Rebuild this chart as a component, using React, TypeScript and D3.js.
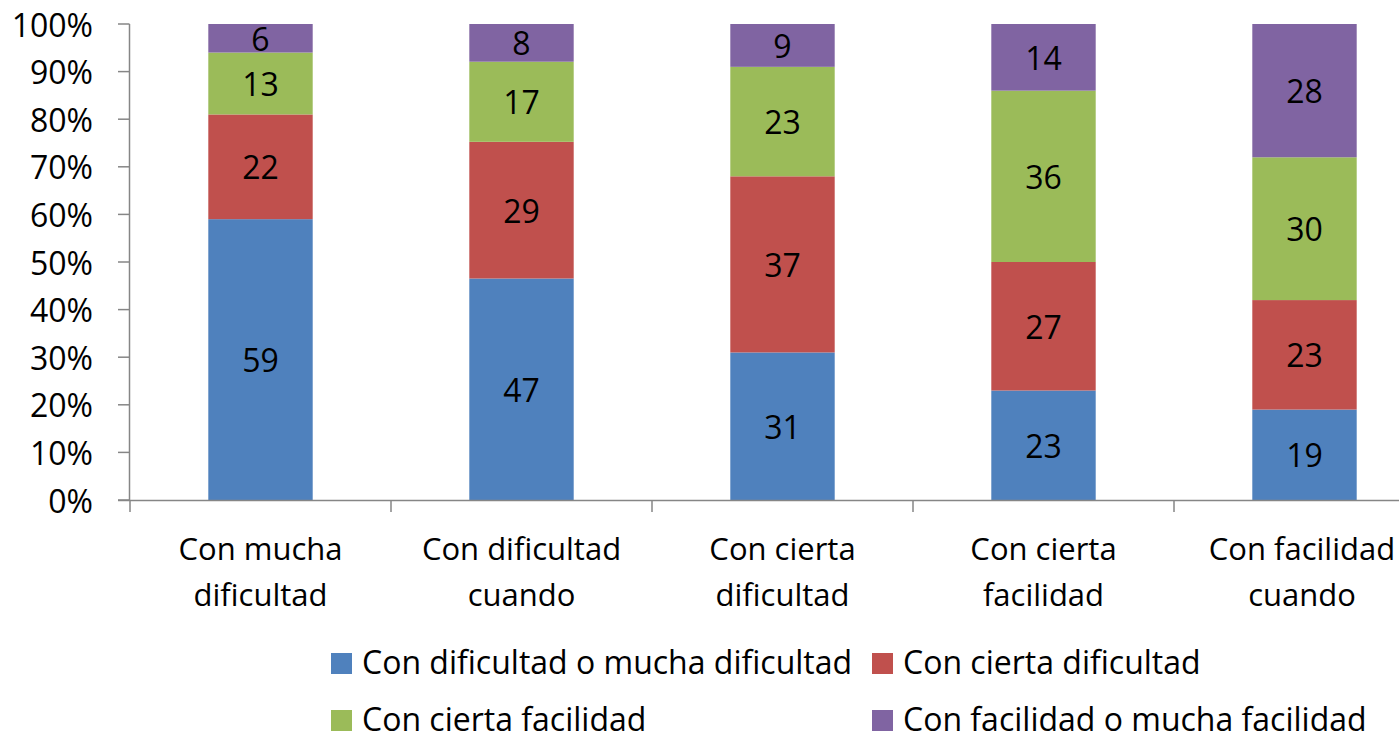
import React from "react";
import * as d3 from "d3";

const categories = [
  ["Con mucha", "dificultad"],
  ["Con dificultad", "cuando"],
  ["Con cierta", "dificultad"],
  ["Con cierta", "facilidad"],
  ["Con facilidad", "cuando"],
];
const seriesNames = [
  "Con dificultad o mucha dificultad",
  "Con cierta dificultad",
  "Con cierta facilidad",
  "Con facilidad o mucha facilidad",
];
const colors = ["#4F81BD", "#C0504D", "#9BBB59", "#8064A2"];
const s1 = [59, 47, 31, 23, 19];
const s2 = [22, 29, 37, 27, 23];
const s3 = [13, 17, 23, 36, 30];
const s4 = [6, 8, 9, 14, 28];
const yTicks = [0, 0.1, 0.2, 0.3, 0.4, 0.5, 0.6, 0.7, 0.8, 0.9, 1];

const W = 1399;
const H = 739;
const FONT = "'Open Sans', sans-serif";
const FS = 32;
const FS_CAT = 31;

export default function App() {
  const keys = ["a", "b", "c", "d"];
  const rows = categories.map((c, i) => ({
    cat: c.join(" "),
    a: s1[i],
    b: s2[i],
    c: s3[i],
    d: s4[i],
  }));
  const stack = d3.stack<any>().keys(keys).offset(d3.stackOffsetExpand);
  const series = stack(rows);

  const x = d3
    .scaleBand<string>()
    .domain(rows.map((r) => r.cat))
    .range([130, 1435])
    .paddingInner(0)
    .paddingOuter(0);
  const y = d3.scaleLinear().domain([0, 1]).range([500, 24]);
  const bw = x.bandwidth() * 0.4;
  const axisColor = "#868686";
  const bounds = rows.map((r) => x(r.cat)!).concat([x.range()[1]]);

  const legendPos = [
    [331, 653],
    [872, 653],
    [331, 710],
    [872, 710],
  ];

  return (
    <svg
      width={W}
      height={H}
      style={{ position: "absolute", left: 0, top: 0, display: "block", background: "#fff" }}
      fontFamily={FONT}
    >
      {series.map((s, si) =>
        s.map((d, i) => {
          const cx = x(rows[i].cat)! + x.bandwidth() / 2;
          const y0 = y(d[0]);
          const y1 = y(d[1]);
          return (
            <g key={`${si}-${i}`}>
              <rect x={cx - bw / 2} y={y1} width={bw} height={y0 - y1} fill={colors[si]} />
              <text
                x={cx}
                y={(y0 + y1) / 2}
                textAnchor="middle"
                dominantBaseline="central"
                fontSize={FS}
                fill="#000"
              >
                {(rows[i] as any)[keys[si]]}
              </text>
            </g>
          );
        })
      )}
      {/* y axis */}
      <line x1={129.5} x2={129.5} y1={y(1)} y2={y(0)} stroke={axisColor} strokeWidth={1.5} />
      {yTicks.map((t) => (
        <g key={t}>
          <line x1={118} x2={129.5} y1={y(t)} y2={y(t)} stroke={axisColor} strokeWidth={1.5} />
          <text
            x={93}
            y={y(t)}
            textAnchor="end"
            dominantBaseline="central"
            fontSize={FS}
            fill="#000"
          >
            {d3.format(".0%")(t)}
          </text>
        </g>
      ))}
      {/* x axis */}
      <line x1={118} x2={W} y1={500.5} y2={500.5} stroke={axisColor} strokeWidth={1.5} />
      {bounds.map((b, i) => (
        <line key={i} x1={b} x2={b} y1={500} y2={512} stroke={axisColor} strokeWidth={1.5} />
      ))}
      {rows.map((r, i) => {
        const cx = Math.min(x(r.cat)! + x.bandwidth() / 2, 1302);
        return (
          <text key={r.cat} x={cx} textAnchor="middle" fontSize={FS_CAT} fill="#000">
            <tspan x={cx} y={560}>
              {categories[i][0]}
            </tspan>
            <tspan x={cx} y={606}>
              {categories[i][1]}
            </tspan>
          </text>
        );
      })}
      {/* legend */}
      {seriesNames.map((n, i) => (
        <g key={n}>
          <rect x={legendPos[i][0]} y={legendPos[i][1]} width={21} height={21} fill={colors[i]} />
          <text x={legendPos[i][0] + 31} y={legendPos[i][1] + 21} fontSize={FS} fill="#000">
            {n}
          </text>
        </g>
      ))}
    </svg>
  );
}
